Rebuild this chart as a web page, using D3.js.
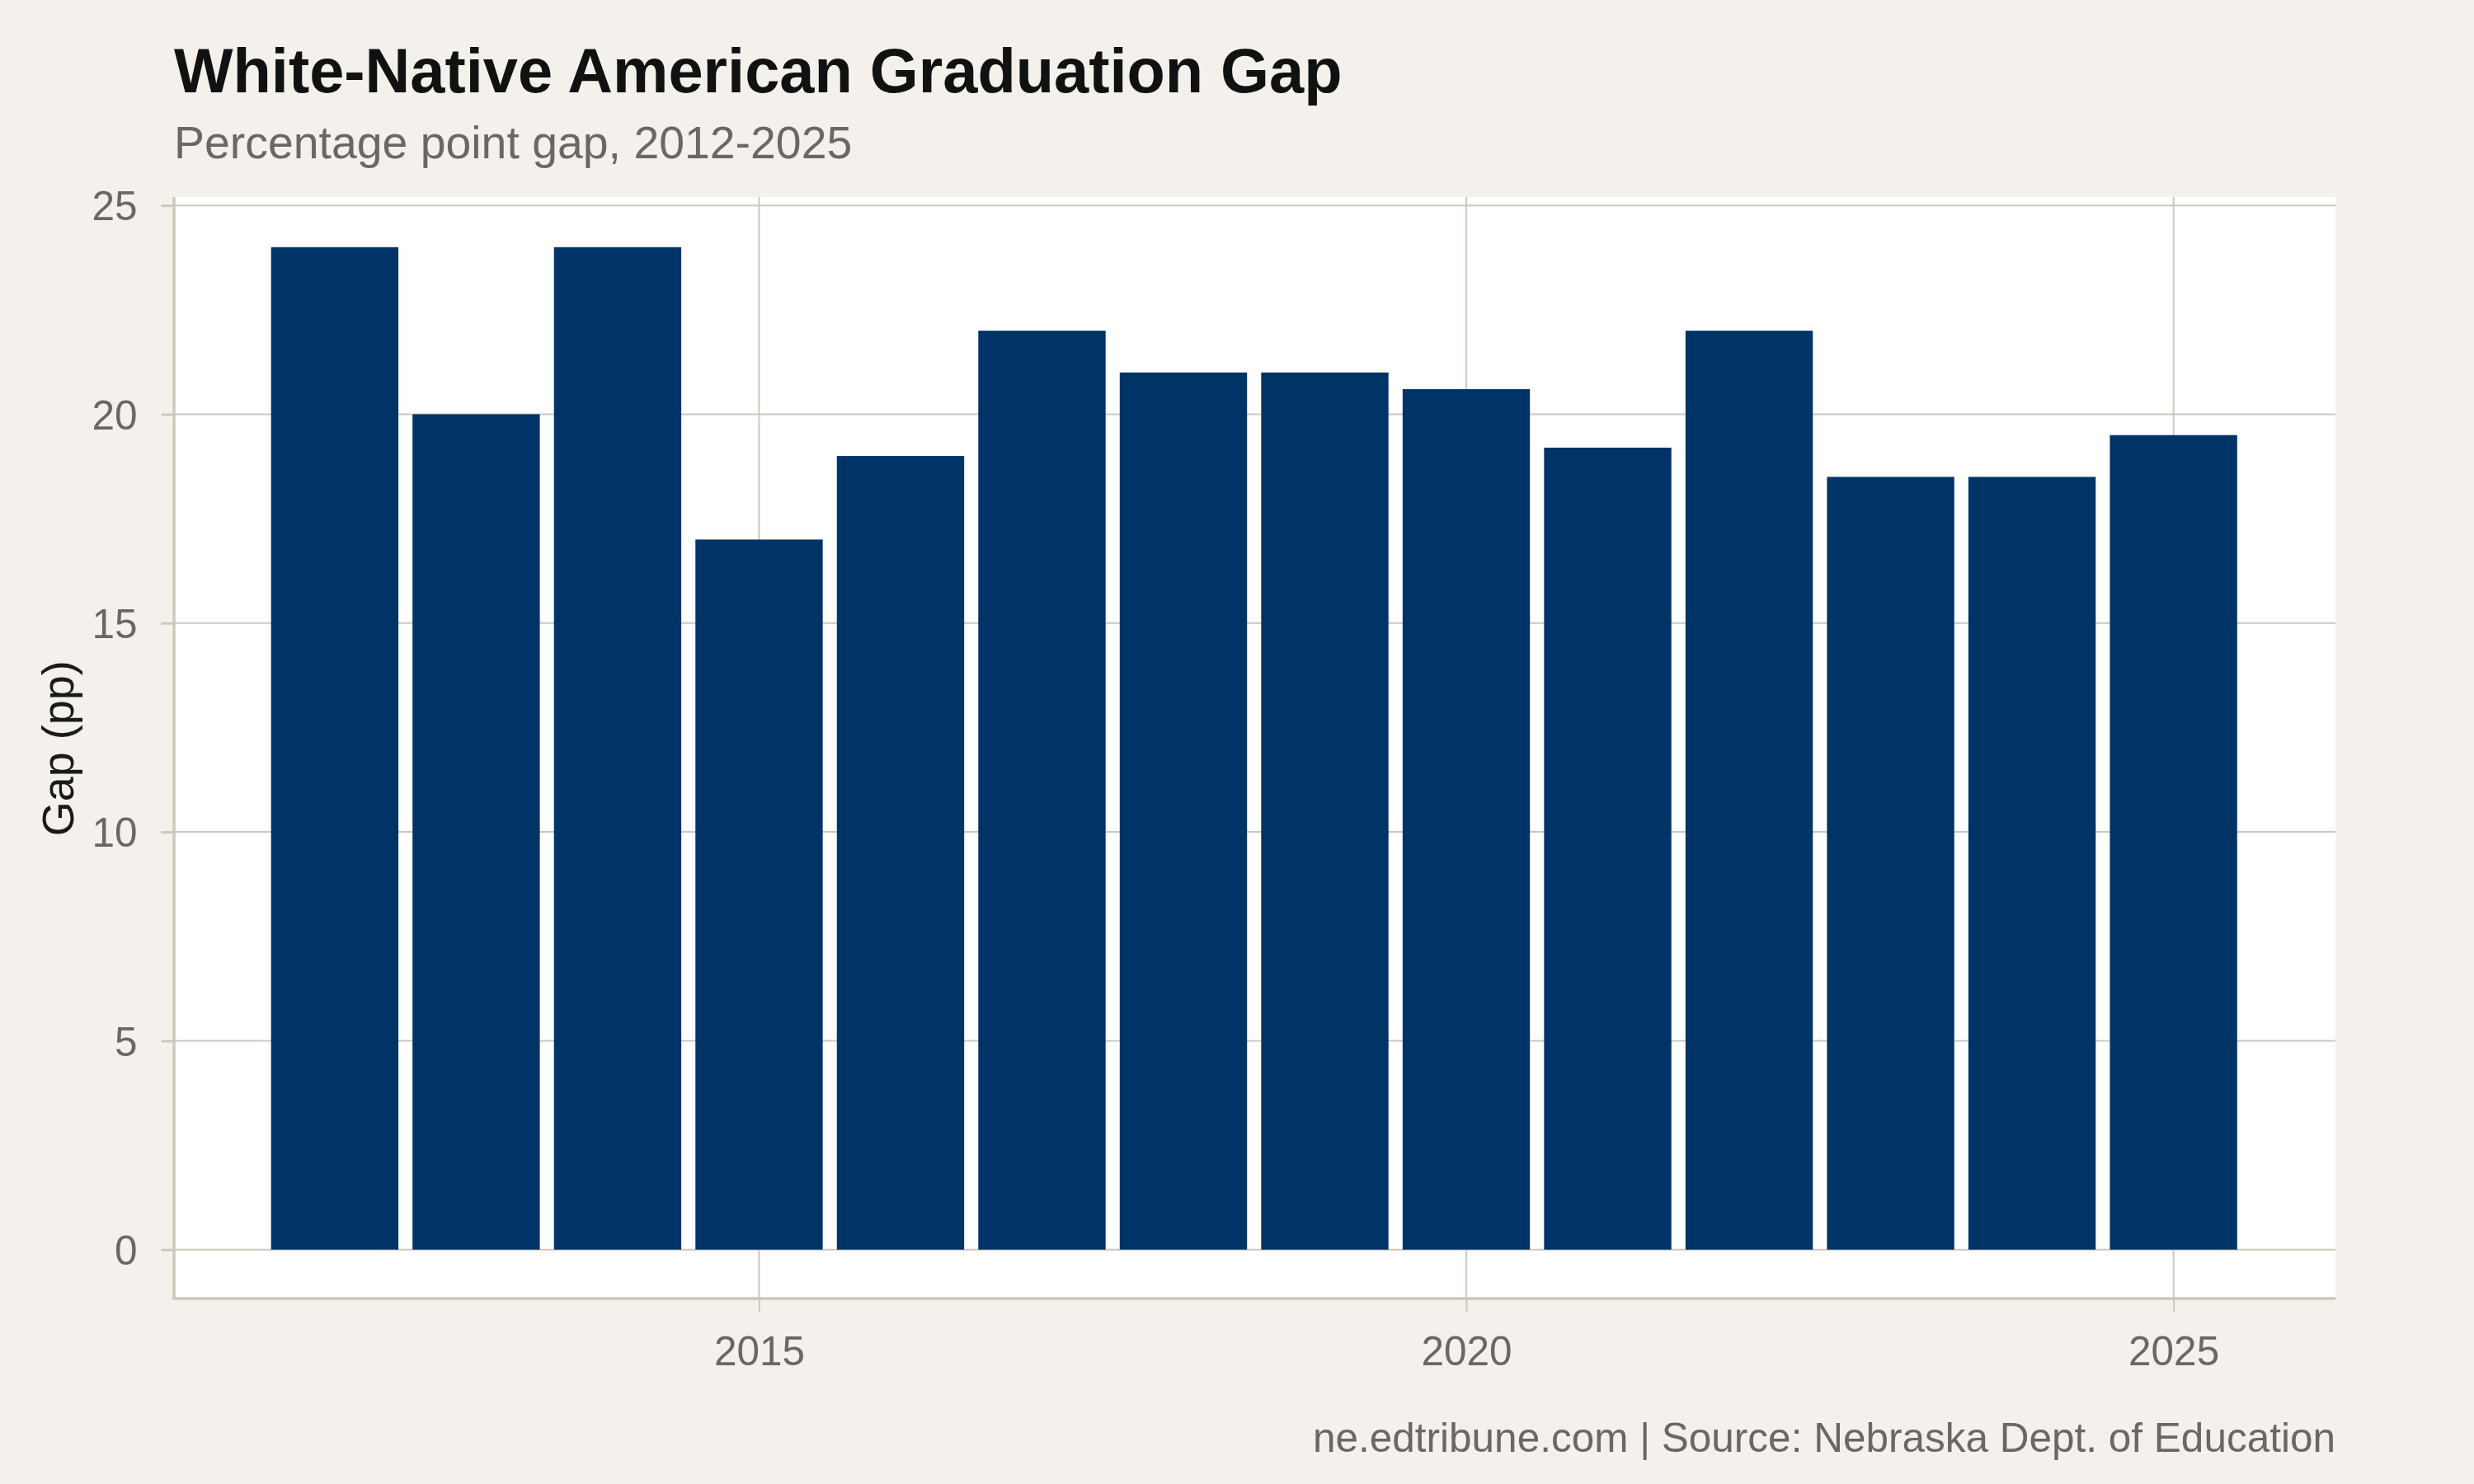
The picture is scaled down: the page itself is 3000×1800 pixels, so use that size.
<!DOCTYPE html>
<html>
<head>
<meta charset="utf-8">
<script src="https://cdn.jsdelivr.net/npm/d3@7"></script>
<style>
  html, body { margin: 0; padding: 0; background: #f4f1ec; }
  svg { display: block; }
  text { font-family: "Liberation Sans", Arial, Helvetica, sans-serif; }
</style>
</head>
<body>
<svg id="chart" width="3000" height="1800"></svg>
<script>
// ---- data ----
const years = [2012, 2013, 2014, 2015, 2016, 2017, 2018, 2019, 2020, 2021, 2022, 2023, 2024, 2025];
const gaps  = [24, 20, 24, 17, 19, 22, 21, 21, 20.6, 19.2, 22, 18.5, 18.5, 19.5];
const xTicks = [2015, 2020, 2025];
const yTicks = [0, 5, 10, 15, 20, 25];
const titleText = "White-Native American Graduation Gap";
const subtitleText = "Percentage point gap, 2012-2025";
const captionText = "ne.edtribune.com | Source: Nebraska Dept. of Education";
const yTitle = "Gap (pp)";

// ---- layout ----
const W = 3000, H = 1800;
const panel = { left: 209.5, right: 2832, top: 239, bottom: 1576.5 };
const barW = 0.9;
const colors = {
  bg: "#f4f1ec", panel: "#ffffff", bar: "#003366",
  grid: "#cdc7bd", axis: "#cdc7bd", tickText: "#6b6762", title: "#111111", sub: "#6b6762"
};

const svg = d3.select("#chart");
svg.append("rect").attr("width", W).attr("height", H).attr("fill", colors.bg);

const data = years.map((y, i) => ({ year: y, gap: gaps[i] }));

const xMin = d3.min(years) - barW / 2, xMax = d3.max(years) + barW / 2;
const xPad = (xMax - xMin) * 0.05;
const x = d3.scaleLinear().domain([xMin - xPad, xMax + xPad]).range([panel.left, panel.right]);
const yMaxD = d3.max(gaps);
const yPad = yMaxD * 0.05;
const y = d3.scaleLinear().domain([0 - yPad, yMaxD + yPad]).range([panel.bottom, panel.top]);

// panel
svg.append("rect")
  .attr("x", panel.left).attr("y", panel.top)
  .attr("width", panel.right - panel.left).attr("height", panel.bottom - panel.top)
  .attr("fill", colors.panel);

// gridlines
const grid = svg.append("g");
grid.selectAll("line.h").data(yTicks).join("line")
  .attr("x1", panel.left).attr("x2", panel.right)
  .attr("y1", d => y(d)).attr("y2", d => y(d))
  .attr("stroke", colors.grid).attr("stroke-width", 2);
grid.selectAll("line.v").data(xTicks).join("line")
  .attr("y1", panel.top).attr("y2", panel.bottom)
  .attr("x1", d => x(d)).attr("x2", d => x(d))
  .attr("stroke", colors.grid).attr("stroke-width", 2);

// bars
svg.append("g").selectAll("rect").data(data).join("rect")
  .attr("x", d => x(d.year - barW / 2))
  .attr("width", d => x(d.year + barW / 2) - x(d.year - barW / 2))
  .attr("y", d => y(d.gap))
  .attr("height", d => y(0) - y(d.gap))
  .attr("fill", colors.bar);

// axes
const yAxis = d3.axisLeft(y).tickValues(yTicks).tickSize(14).tickPadding(29);
const gy = svg.append("g").attr("transform", `translate(${panel.left},0)`).call(yAxis);
gy.select(".domain").remove();
gy.selectAll(".tick line").attr("stroke", colors.axis).attr("stroke-width", 3);
gy.selectAll(".tick text").attr("fill", colors.tickText).attr("font-size", 49.5)
  .attr("font-family", "Liberation Sans, Arial, sans-serif").attr("dy", "0.36em");

const xAxis = d3.axisBottom(x).tickValues(xTicks).tickFormat(d3.format("d")).tickSize(14).tickPadding(30);
const gx = svg.append("g").attr("transform", `translate(0,${panel.bottom})`).call(xAxis);
gx.select(".domain").remove();
gx.selectAll(".tick line").attr("stroke", colors.axis).attr("stroke-width", 2);
gx.selectAll(".tick text").attr("fill", colors.tickText).attr("font-size", 49.5)
  .attr("font-family", "Liberation Sans, Arial, sans-serif").attr("dy", "0.71em");

// axis lines
svg.append("line").attr("x1", panel.left + 1.5).attr("x2", panel.left + 1.5)
  .attr("y1", panel.top).attr("y2", panel.bottom)
  .attr("stroke", colors.axis).attr("stroke-width", 3.5);
svg.append("line").attr("x1", panel.left).attr("x2", panel.right)
  .attr("y1", panel.bottom - 1.5).attr("y2", panel.bottom - 1.5)
  .attr("stroke", colors.axis).attr("stroke-width", 3.5);

// y title
svg.append("text")
  .attr("transform", `translate(${89},${(panel.top + panel.bottom) / 2}) rotate(-90)`)
  .attr("text-anchor", "middle")
  .attr("font-size", 54).attr("fill", "#1a1a1a")
  .text(yTitle);

// title / subtitle / caption
svg.append("text").attr("x", 211).attr("y", 112)
  .attr("font-size", 75.8).attr("font-weight", "bold").attr("fill", colors.title)
  .text(titleText);
svg.append("text").attr("x", 211).attr("y", 192)
  .attr("font-size", 55.4).attr("fill", colors.sub)
  .text(subtitleText);
svg.append("text").attr("x", panel.right).attr("y", 1761)
  .attr("text-anchor", "end")
  .attr("font-size", 49.5).attr("fill", colors.sub)
  .text(captionText);
</script>
</body>
</html>
